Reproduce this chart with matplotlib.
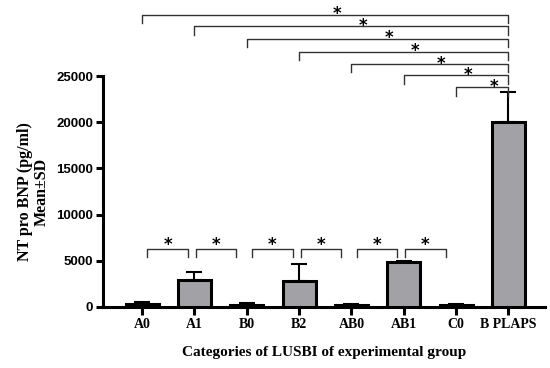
import matplotlib
matplotlib.use("Agg")
from matplotlib import pyplot as plt

categories = ["A0", "A1", "B0", "B2", "AB0", "AB1", "C0", "B PLAPS"]
means = [330, 2920, 160, 2820, 200, 4820, 200, 20000]
sds = [150, 900, 250, 1800, 120, 200, 150, 3250]

# comparisons between neighbouring groups (drawn low)
low_pairs = [(0, 1), (1, 2), (2, 3), (3, 4), (4, 5), (5, 6)]
# comparisons against B PLAPS (stacked on top)
top_pairs = [(0, 7), (1, 7), (2, 7), (3, 7), (4, 7), (5, 7), (6, 7)]

serif = "Liberation Serif"
sans = "Liberation Sans"

fig = plt.figure(figsize=(5.5, 3.68), dpi=100)
ax = fig.add_axes([0.187, 0.166, 0.804, 0.627])

x = list(range(len(categories)))
ax.bar(x, means, width=0.63, color="#a2a2a6", edgecolor="black", linewidth=2.2, zorder=3)
ax.errorbar(x, means, yerr=[[0] * len(sds), sds], fmt="none", ecolor="black",
            elinewidth=1.5, capsize=6, capthick=1.5, zorder=2)

ax.set_xlim(-0.75, 7.7)
ax.set_ylim(0, 25000)
ax.set_yticks([0, 5000, 10000, 15000, 20000, 25000])
ax.set_xticks(x)
ax.set_xticklabels(categories, fontfamily=serif, fontweight="bold", fontsize=10)
for lab in ax.get_yticklabels():
    lab.set_fontfamily(sans)
    lab.set_fontweight("bold")
    lab.set_fontsize(9.5)

for s in ["top", "right"]:
    ax.spines[s].set_visible(False)
for s in ["left", "bottom"]:
    ax.spines[s].set_linewidth(2.2)
ax.tick_params(axis="both", width=2.2, length=5, direction="out", pad=2)
ax.tick_params(axis="x", length=6, pad=2)

ax.set_xlabel("Categories of LUSBI of experimental group", fontfamily=serif,
              fontweight="bold", fontsize=11, labelpad=11)
ax.set_ylabel("NT pro BNP (pg/ml)\nMean±SD", fontfamily=serif,
              fontweight="bold", fontsize=11.5, labelpad=5, linespacing=1.0)

# neighbouring brackets
bl, drop = 6240, 800
for k, (i, j) in enumerate(low_pairs):
    if k % 2 == 0:
        x1, x2 = i + 0.1, j - 0.12
    else:
        x1, x2 = i + 0.03, j - 0.2
    ax.plot([x1, x1, x2, x2], [bl - drop, bl, bl, bl - drop], color="#333333",
            lw=1.0, clip_on=False, zorder=4)
    ax.text((x1 + x2) / 2, bl - 100, "*", ha="center", va="baseline",
            fontsize=12, fontweight="bold", fontfamily="DejaVu Sans")

# top brackets
levels = [31650, 30400, 29050, 27650, 26300, 25100, 23800]
for (i, j), lv in zip(top_pairs, levels):
    ax.plot([i, i, j, j], [lv - 900, lv, lv, lv - 900], color="#333333",
            lw=1.0, clip_on=False, zorder=4)
    ax.text((i + j) / 2 + 0.22, lv - 480, "*", ha="center", va="baseline",
            fontsize=12, fontweight="bold", fontfamily="DejaVu Sans")

fig.savefig("out.png", dpi=100)
